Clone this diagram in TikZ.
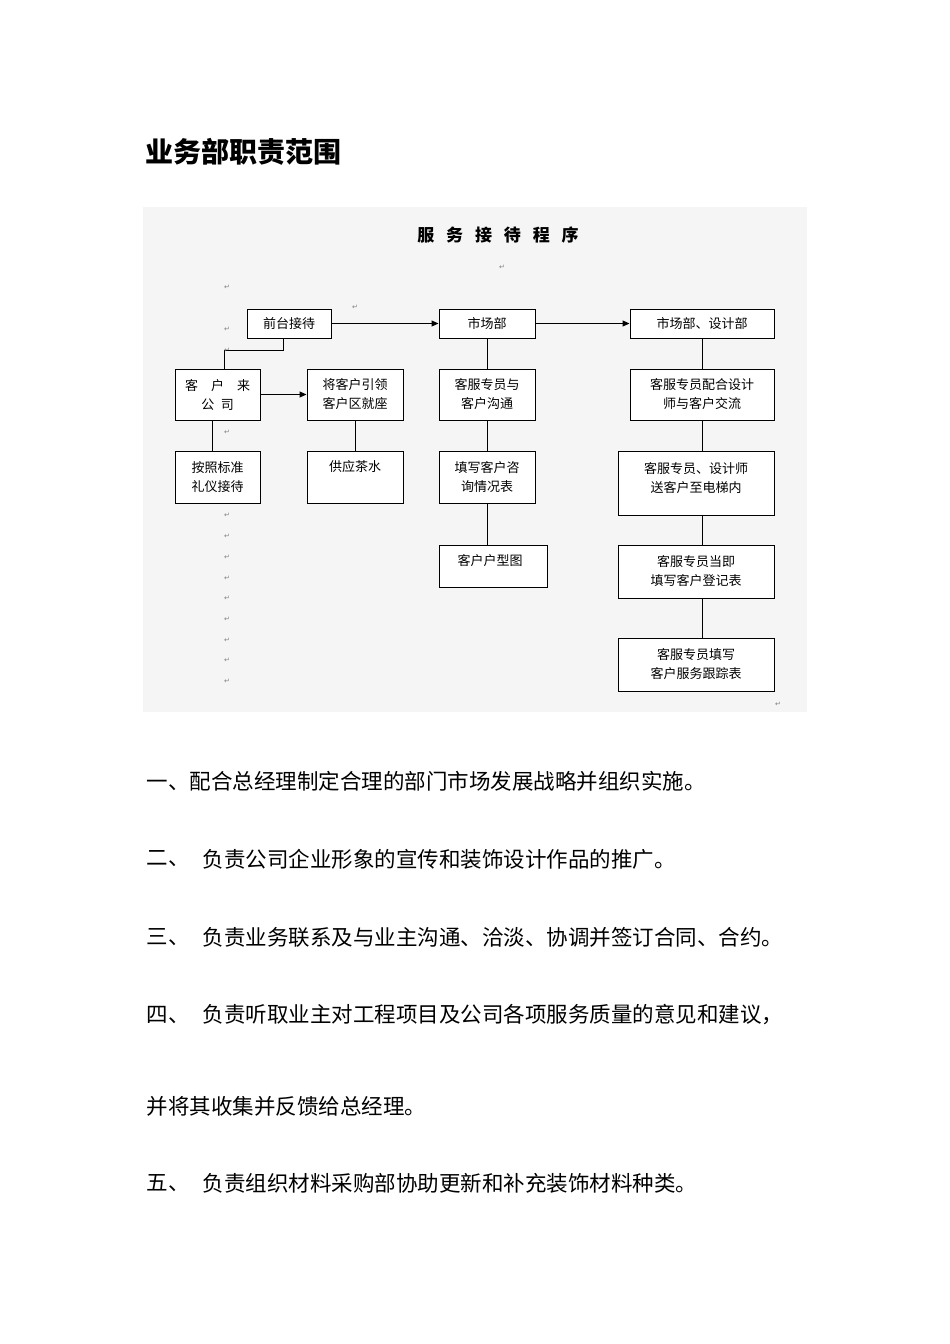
\documentclass[tikz,border=0pt]{standalone}
\usepackage{fontspec}
\setmainfont{Noto Sans CJK SC}
\newfontfamily\sym{DejaVu Sans}
\usetikzlibrary{arrows.meta}
\begin{document}
\begin{tikzpicture}[x=1pt,y=-1pt,
  bx/.style={draw,line width=1pt,fill=white,inner sep=0pt,font=\fontsize{13}{19}\selectfont,align=center},
  ln/.style={line width=1pt},
  ar/.style={line width=1pt,-{Triangle[length=7pt,width=6pt]}},
  rm/.style={font=\sym\fontsize{7}{7}\selectfont,text=gray}]
\useasboundingbox (0,0) rectangle (950,1344);
\fill[white] (0,0) rectangle (950,1344);
\fill[black!4!white] (143,207) rectangle (807,712);
\node[anchor=west,font=\bfseries\fontsize{28}{32}\selectfont] (t) at (142,152) {业务部职责范围};
\node[font=\bfseries\fontsize{17}{20}\selectfont] (dt) at (498,235) {服\hspace{0.7em}务\hspace{0.7em}接\hspace{0.7em}待\hspace{0.7em}程\hspace{0.7em}序};
% boxes
\node[bx,minimum width=84pt,minimum height=29pt] (a1) at (289,323.5) {前台接待};
\node[bx,minimum width=96pt,minimum height=29pt] (b1) at (487,323.5) {市场部};
\node[bx,minimum width=144pt,minimum height=29pt] (c1) at (702,323.5) {市场部、设计部};
\node[bx,minimum width=85pt,minimum height=51pt] (a2) at (217.5,394.5) {客\hspace{1em}户\hspace{1em}来\\公\hspace{0.5em}司};
\node[bx,minimum width=96pt,minimum height=51pt] (a3) at (355,394.5) {将客户引领\\客户区就座};
\node[bx,minimum width=96pt,minimum height=51pt] (b2) at (487,394.5) {客服专员与\\客户沟通};
\node[bx,minimum width=144pt,minimum height=51pt] (c2) at (702,394.5) {客服专员配合设计\\师与客户交流};
\node[bx,minimum width=85pt,minimum height=52pt] (a4) at (217.5,477) {按照标准\\礼仪接待};
\node[bx,minimum width=96pt,minimum height=52pt] (a5) at (355,477) {};
\node[font=\fontsize{13}{19}\selectfont] (a5t) at (355,467) {供应茶水};
\node[bx,minimum width=96pt,minimum height=52pt] (b3) at (487,477) {填写客户咨\\询情况表};
\node[bx,minimum width=156pt,minimum height=64pt] (c3) at (696,483) {};
\node[font=\fontsize{13}{19}\selectfont,align=center] (c3t) at (696,478) {客服专员、设计师\\送客户至电梯内};
\node[bx,minimum width=108pt,minimum height=42pt] (b4) at (493,566) {};
\node[font=\fontsize{13}{19}\selectfont] (b4t) at (490,561) {客户户型图};
\node[bx,minimum width=156pt,minimum height=53pt] (c4) at (696,571.5) {客服专员当即\\填写客户登记表};
\node[bx,minimum width=156pt,minimum height=53pt] (c5) at (696,664.5) {客服专员填写\\客户服务跟踪表};
% connectors
\draw[ln] (283,338) -- (283,350) -- (224,350) -- (224,369);
\draw[ar] (a1.east) -- (b1.west);
\draw[ar] (b1.east) -- (c1.west);
\draw[ar] (a2.east) -- (a3.west);
\draw[ln] (212,420) -- (212,451);
\draw[ln] (a3.south) -- (a5.north);
\draw[ln] (b1.south) -- (b2.north);
\draw[ln] (b2.south) -- (b3.north);
\draw[ln] (b3.south) -- (487,545);
\draw[ln] (c1.south) -- (c2.north);
\draw[ln] (c2.south) -- (702,451);
\draw[ln] (702,515) -- (702,545);
\draw[ln] (702,598) -- (702,638);
% paragraph marks
\foreach \yy in {287,329,350,432,515,536,557,578,598,619,640,660,681} \node[rm] at (227,\yy) {↵};
\node[rm] at (355,307) {↵};
\node[rm] at (502,267) {↵};
\node[rm] at (778,704) {↵};
% body text
\begin{scope}[every node/.style={anchor=west,font=\fontsize{21.5}{24}\selectfont}]
\node (p1) at (143,781) {一、配合总经理制定合理的部门市场发展战略并组织实施。};
\node (p2a) at (143,859) {二、};
\node (p2) at (199,859) {负责公司企业形象的宣传和装饰设计作品的推广。};
\node (p3a) at (143,937) {三、};
\node (p3) at (199,937) {负责业务联系及与业主沟通、洽淡、协调并签订合同、合约。};
\node (p4a) at (143,1015) {四、};
\node (p4) at (199,1015) {负责听取业主对工程项目及公司各项服务质量的意见和建议，};
\node (p5) at (143,1106) {并将其收集并反馈给总经理。};
\node (p6a) at (143,1183) {五、};
\node (p6) at (199,1183) {负责组织材料采购部协助更新和补充装饰材料种类。};
\end{scope}
\end{tikzpicture}
\end{document}
